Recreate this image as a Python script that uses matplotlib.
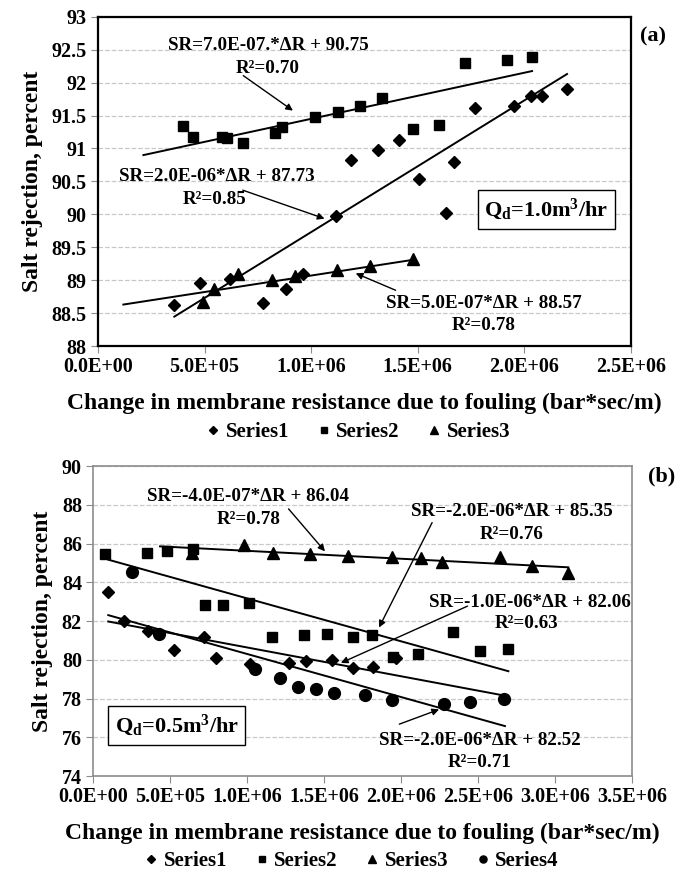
import numpy as np
import matplotlib
matplotlib.use("Agg")
import matplotlib.pyplot as plt
from matplotlib.ticker import FuncFormatter, MultipleLocator

plt.rcParams['font.family'] = ['Liberation Serif', 'DejaVu Serif']
plt.rcParams['font.weight'] = 'bold'
plt.rcParams['mathtext.fontset'] = 'custom'
plt.rcParams['mathtext.rm'] = 'Liberation Serif:bold'
plt.rcParams['mathtext.it'] = 'Liberation Serif:bold'
plt.rcParams['mathtext.bf'] = 'Liberation Serif:bold'

# ---- panel (a), Qd = 1.0 m3/hr ----
a_s1_x = [0.358e6, 0.479e6, 0.617e6, 0.773e6, 0.881e6, 0.961e6, 1.117e6, 1.188e6, 1.313e6,
          1.41e6, 1.504e6, 1.634e6, 1.668e6, 1.77e6, 1.953e6, 2.031e6, 2.083e6, 2.20e6]
a_s1_y = [88.63, 88.96, 89.02, 88.65, 88.87, 89.09, 89.97, 90.83, 90.98,
          91.13, 90.54, 90.02, 90.79, 91.61, 91.65, 91.80, 91.80, 91.91]
a_s2_x = [0.40e6, 0.447e6, 0.58e6, 0.604e6, 0.68e6, 0.831e6, 0.862e6, 1.019e6, 1.125e6,
          1.227e6, 1.33e6, 1.476e6, 1.598e6, 1.723e6, 1.919e6, 2.036e6]
a_s2_y = [91.34, 91.18, 91.18, 91.16, 91.09, 91.23, 91.32, 91.47, 91.55,
          91.65, 91.77, 91.30, 91.35, 92.29, 92.34, 92.39]
a_s3_x = [0.494e6, 0.546e6, 0.659e6, 0.815e6, 0.925e6, 1.12e6, 1.277e6, 1.476e6]
a_s3_y = [88.67, 88.87, 89.10, 89.00, 89.06, 89.15, 89.21, 89.32]
# trend line equations (slope, intercept) and x extent
a_fit = [(2.0e-6, 87.73), (7.0e-7, 90.75), (5.0e-7, 88.57)]
a_fit_x = [(0.358e6, 2.20e6), (0.213e6, 2.036e6), (0.119e6, 1.476e6)]

# ---- panel (b), Qd = 0.5 m3/hr ----
b_s1_x = [0.099e6, 0.203e6, 0.359e6, 0.528e6, 0.723e6, 0.799e6, 1.019e6, 1.275e6, 1.383e6,
          1.554e6, 1.686e6, 1.82e6, 1.97e6]
b_s1_y = [83.51, 82.01, 81.50, 80.50, 81.19, 80.11, 79.78, 79.86, 79.94,
          80.00, 79.56, 79.61, 80.12]
b_s2_x = [0.078e6, 0.348e6, 0.478e6, 0.647e6, 0.727e6, 0.846e6, 1.015e6, 1.16e6, 1.372e6,
          1.517e6, 1.686e6, 1.814e6, 1.95e6, 2.112e6, 2.336e6, 2.513e6, 2.697e6]
b_s2_y = [85.46, 85.52, 85.63, 85.70, 82.83, 82.83, 82.91, 81.16, 81.28,
          81.33, 81.19, 81.28, 80.16, 80.30, 81.42, 80.45, 80.54]
b_s3_x = [0.641e6, 0.981e6, 1.171e6, 1.409e6, 1.654e6, 1.94e6, 2.128e6, 2.264e6, 2.643e6,
          2.849e6, 3.086e6]
b_s3_y = [85.49, 85.92, 85.49, 85.44, 85.35, 85.32, 85.24, 85.06, 85.29, 84.84, 84.46]
b_s4_x = [0.251e6, 0.431e6, 1.052e6, 1.214e6, 1.333e6, 1.448e6, 1.565e6, 1.766e6, 1.94e6,
          2.281e6, 2.448e6, 2.669e6]
b_s4_y = [84.55, 81.33, 79.51, 79.04, 78.58, 78.47, 78.30, 78.21, 77.92,
          77.71, 77.83, 77.97]
b_fit_x = [(0.099e6, 2.675e6), (0.099e6, 2.697e6), (0.435e6, 3.086e6), (0.099e6, 2.675e6)]

fig = plt.figure(figsize=(6.89, 8.72), dpi=100)
axa = fig.add_axes([0.1422, 0.6032, 0.7736, 0.3776])
axb = fig.add_axes([0.135, 0.110, 0.7823, 0.3555])

markers = ['D', 's', '^', 'o']
msizes = [6.5, 7.5, 8.5, 8.5]
names = ['Series1', 'Series2', 'Series3', 'Series4']

fmt_x = FuncFormatter(lambda v, p: f"{v:.1E}")
fmt_y = FuncFormatter(lambda v, p: f"{v:g}")

# panel a
for i, (xs, ys) in enumerate([(a_s1_x, a_s1_y), (a_s2_x, a_s2_y), (a_s3_x, a_s3_y)]):
    axa.plot(xs, ys, ls='none', marker=markers[i], ms=msizes[i], color='black', label=names[i])
    m, c = a_fit[i]
    xl = np.array(a_fit_x[i])
    axa.plot(xl, m * xl + c, color='black', lw=1.4)

axa.set_xlim(0, 2.5e6)
axa.set_ylim(88, 93)
axa.yaxis.set_major_locator(MultipleLocator(0.5))
axa.xaxis.set_major_locator(MultipleLocator(0.5e6))

# panel b
for i, (xs, ys) in enumerate([(b_s1_x, b_s1_y), (b_s2_x, b_s2_y), (b_s3_x, b_s3_y), (b_s4_x, b_s4_y)]):
    axb.plot(xs, ys, ls='none', marker=markers[i], ms=msizes[i], color='black', label=names[i])
    m, c = np.polyfit(xs, ys, 1)
    xl = np.array(b_fit_x[i])
    axb.plot(xl, m * xl + c, color='black', lw=1.4)

axb.set_xlim(0, 3.5e6)
axb.set_ylim(74, 90)
axb.yaxis.set_major_locator(MultipleLocator(2))
axb.xaxis.set_major_locator(MultipleLocator(0.5e6))

for ax, spc in [(axa, 'black'), (axb, '#8c8c8c')]:
    ax.xaxis.set_major_formatter(fmt_x)
    ax.yaxis.set_major_formatter(fmt_y)
    ax.yaxis.grid(True, ls='--', color='#c8c8c8', lw=0.9)
    ax.set_axisbelow(True)
    ax.tick_params(direction='out', length=5, color='#8c8c8c', labelsize=14.5, pad=3)
    for s in ax.spines.values():
        s.set_color(spc)
        s.set_linewidth(1.6 if spc == 'black' else 1.2)
    ax.set_ylabel('Salt rejection, percent', fontsize=17, fontweight='bold', labelpad=6)
    ax.set_xlabel('Change in membrane resistance due to fouling (bar*sec/m)',
                  fontsize=17, fontweight='bold', labelpad=11)

arr = dict(arrowstyle='-|>', color='black', lw=1.0, mutation_scale=10)
tkw = dict(ha='center', va='center', fontsize=13.7, fontweight='bold')

# annotations panel a
axa.text(0.798e6, 92.57, 'SR=7.0E-07.*ΔR + 90.75', **tkw)
axa.text(0.798e6, 92.22, 'R²=0.70', **tkw)
axa.annotate('', xy=(0.925e6, 91.55), xytext=(0.671e6, 92.13), arrowprops=arr)
axa.text(0.559e6, 90.57, 'SR=2.0E-06*ΔR + 87.73', **tkw)
axa.text(0.549e6, 90.22, 'R²=0.85', **tkw)
axa.annotate('', xy=(1.075e6, 89.92), xytext=(0.667e6, 90.38), arrowprops=arr)
axa.text(1.808e6, 88.65, 'SR=5.0E-07*ΔR + 88.57', **tkw)
axa.text(1.808e6, 88.31, 'R²=0.78', **tkw)
axa.annotate('', xy=(1.197e6, 89.12), xytext=(1.408e6, 88.83), arrowprops=arr)
axa.text(2.103e6, 90.07, r'Q$_{\rm d}$=1.0m$^{3}$/hr', ha='center', va='center', fontsize=16,
         bbox=dict(boxstyle='square,pad=0.3', fc='white', ec='black', lw=1.0))

# annotations panel b
axb.text(1.008e6, 88.42, 'SR=-4.0E-07*ΔR + 86.04', **tkw)
axb.text(1.008e6, 87.26, 'R²=0.78', **tkw)
axb.annotate('', xy=(1.518e6, 85.49), xytext=(1.258e6, 87.90), arrowprops=arr)
axb.text(2.719e6, 87.64, 'SR=-2.0E-06*ΔR + 85.35', **tkw)
axb.text(2.719e6, 86.49, 'R²=0.76', **tkw)
axb.annotate('', xy=(1.849e6, 81.54), xytext=(2.21e6, 87.21), arrowprops=arr)
axb.text(2.838e6, 82.97, 'SR=-1.0E-06*ΔR + 82.06', **tkw)
axb.text(2.816e6, 81.88, 'R²=0.63', **tkw)
axb.annotate('', xy=(1.593e6, 79.78), xytext=(2.448e6, 82.83), arrowprops=arr)
axb.text(2.513e6, 75.86, 'SR=-2.0E-06*ΔR + 82.52', **tkw)
axb.text(2.513e6, 74.72, 'R²=0.71', **tkw)
axb.annotate('', xy=(2.264e6, 77.49), xytext=(1.972e6, 76.63), arrowprops=arr)
axb.text(0.543e6, 76.63, r'Q$_{\rm d}$=0.5m$^{3}$/hr', ha='center', va='center', fontsize=16,
         bbox=dict(boxstyle='square,pad=0.3', fc='white', ec='black', lw=1.0))

fig.text(652.7 / 689, 1 - 36.7 / 872, '(a)', ha='center', va='center', fontsize=16, fontweight='bold')
fig.text(661.7 / 689, 1 - 476.7 / 872, '(b)', ha='center', va='center', fontsize=16, fontweight='bold')

lkw = dict(loc='center', ncol=4, frameon=False, fontsize=15, markerscale=0.6,
           handlelength=0.7, handletextpad=0.25, columnspacing=1.3)
axa.legend(bbox_to_anchor=(0.52, 1 - 432 / 872), bbox_transform=fig.transFigure, **lkw)
axb.legend(bbox_to_anchor=(0.51, 1 - 861 / 872), bbox_transform=fig.transFigure, **lkw)

fig.savefig('out.png', dpi=100)
